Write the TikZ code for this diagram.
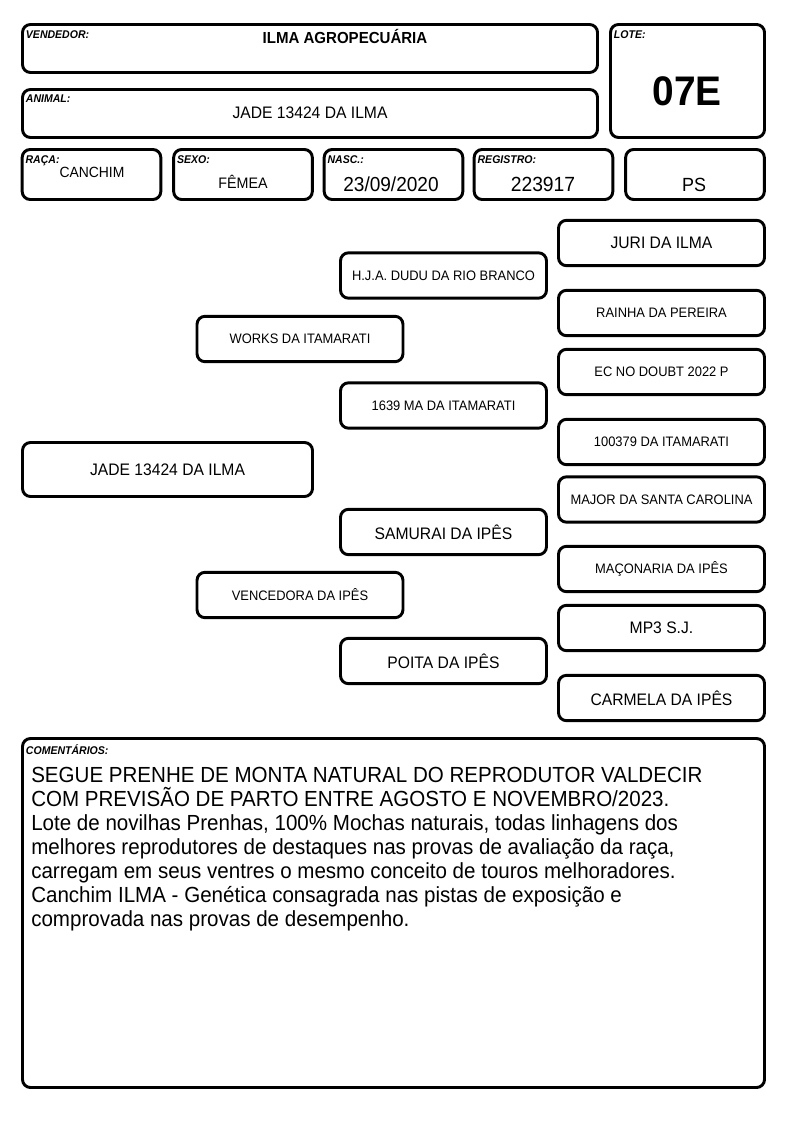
\documentclass[tikz,border=0pt]{standalone}
\usepackage{fontspec}
\setmainfont[FakeStretch=0.94]{Liberation Sans}
\usetikzlibrary{positioning}

\begin{document}
\begin{tikzpicture}[x=0.75pt, y=-0.75pt,
		box/.style={draw, line width=2.2pt, rounded corners=6pt, inner sep=0pt, align=center},
		tag/.style={inner sep=0pt, font=\fontsize{8.4}{9}\selectfont\bfseries\itshape, below right=5.2pt and 3.5pt of #1.north west},
		cell/.style={box, minimum width=104pt, minimum height=37.5pt},
		ped/.style={box, minimum width=154.5pt, minimum height=34pt, font=\fontsize{10.3}{12}\selectfont},
		pedbig/.style={ped, font=\fontsize{12.5}{14}\selectfont}]
			\useasboundingbox (0,0) rectangle (794,1123);
			%\draw[step=50,gray,very thin] (0,0) grid (794,1123);
			% cabecalho
			\node[box, minimum width=431.25pt, minimum height=36pt] (vend) at (310,48.5) {};
			\node[box, minimum width=431.25pt, minimum height=36pt] (anim) at (310,113.5) {};
			\node[box, minimum width=115.5pt, minimum height=84.75pt] (lote) at (687.5,81) {};
			\node[cell] (raca) at (91.5,174.5) {};
			\node[cell] (sexo) at (243,174.5) {};
			\node[cell] (nasc) at (393.5,174.5) {};
			\node[cell] (reg) at (543.5,174.5) {};
			\node[cell] (pscell) at (695,174.5) {};
			\node[tag=vend] (vendtag) {VENDEDOR:};
			\node[tag=anim] (animtag) {ANIMAL:};
			\node[tag=lote] (lotetag) {LOTE:};
			\node[tag=raca] (racatag) {RAÇA:};
			\node[tag=sexo] (sexotag) {SEXO:};
			\node[tag=nasc] (nasctag) {NASC.:};
			\node[tag=reg] (regtag) {REGISTRO:};
			\node[anchor=base, font=\fontsize{12}{14}\selectfont\bfseries] (vendval) at (345,43.3) {ILMA AGROPECUÁRIA};
			\node[anchor=base, font=\fontsize{12.5}{14}\selectfont] (animval) at (310,119) {JADE 13424 DA ILMA};
			\node[anchor=base, font=\fontsize{31}{34}\selectfont\bfseries] (loteval) at (687,106) {07E};
			\node[anchor=base, font=\fontsize{11.1}{13}\selectfont] (racaval) at (92,178) {CANCHIM};
			\node[anchor=base, font=\fontsize{11.4}{13}\selectfont] (sexoval) at (243,189) {FÊMEA};
			\node[anchor=base, font=\fontsize{15.2}{17}\selectfont] (nascval) at (391,192) {23/09/2020};
			\node[anchor=base, font=\fontsize{15.4}{17}\selectfont] (regval) at (543,192) {223917};
			\node[anchor=base, font=\fontsize{14.3}{17}\selectfont] (psval) at (694,192) {PS};
			% genealogia
			\node[box, minimum width=217.5pt, minimum height=40.5pt, font=\fontsize{12.5}{14}\selectfont] (a0) at (167.5,469.5) {JADE 13424 DA ILMA};
			\node[ped] (works) at (300,339) {WORKS DA ITAMARATI};
			\node[ped] (venc) at (300,595) {VENCEDORA DA IPÊS};
			\node[ped] (dudu) at (443.5,275.5) {H.J.A. DUDU DA RIO BRANCO};
			\node[ped] (ma1639) at (443.5,405.5) {1639 MA DA ITAMARATI};
			\node[pedbig] (samurai) at (443.5,532) {SAMURAI DA IPÊS};
			\node[pedbig] (poita) at (443.5,661) {POITA DA IPÊS};
			\node[pedbig] (juri) at (661.5,243) {JURI DA ILMA};
			\node[ped] (rainha) at (661.5,313) {RAINHA DA PEREIRA};
			\node[ped] (ecno) at (661.5,372) {EC NO DOUBT 2022 P};
			\node[ped] (n100379) at (661.5,442) {100379 DA ITAMARATI};
			\node[ped] (major) at (661.5,499.5) {MAJOR DA SANTA CAROLINA};
			\node[ped] (macon) at (661.5,569) {MAÇONARIA DA IPÊS};
			\node[pedbig] (mp3) at (661.5,628) {MP3 S.J.};
			\node[pedbig] (carmela) at (661.5,698) {CARMELA DA IPÊS};
			% comentarios
			\node[box, minimum width=556.5pt, minimum height=261.75pt] (coment) at (393.5,913) {};
			\node[tag=coment] (comenttag) {COMENTÁRIOS:};
			\node[anchor=north west, inner sep=0pt, align=left, font=\fontsize{16.4}{18}\selectfont] (comenttxt) at (31,766.5) {SEGUE PRENHE DE MONTA NATURAL DO REPRODUTOR VALDECIR\\COM PREVISÃO DE PARTO ENTRE AGOSTO E NOVEMBRO/2023.\\Lote de novilhas Prenhas, 100\% Mochas naturais, todas linhagens dos\\melhores reprodutores de destaques nas provas de avaliação da raça,\\carregam em seus ventres o mesmo conceito de touros melhoradores.\\Canchim ILMA - Genética consagrada nas pistas de exposição e\\comprovada nas provas de desempenho.};
		\end{tikzpicture}
\end{document}
